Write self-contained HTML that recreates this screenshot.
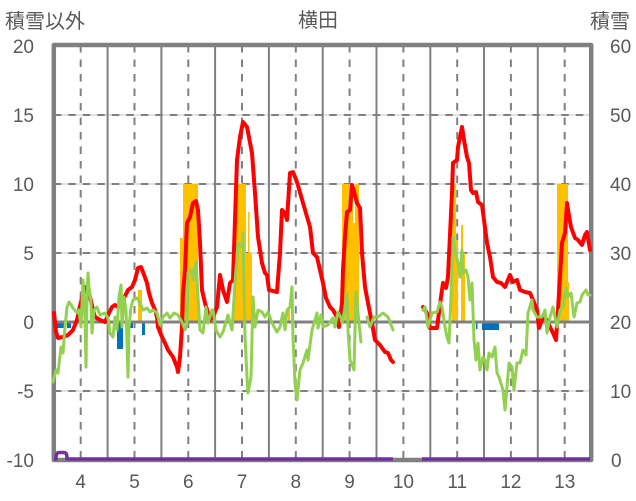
<!DOCTYPE html>
<html><head><meta charset="utf-8"><style>
html,body{margin:0;padding:0;background:#fff;}
svg{display:block;}
text{font-family:"Liberation Sans","Noto Sans CJK JP",sans-serif;fill:#595959;}
</style></head><body>
<svg width="636" height="501" viewBox="0 0 636 501" xmlns="http://www.w3.org/2000/svg">
<!-- horizontal light underlay -->
<g stroke="#d9d9d9" stroke-width="1.5">
<line x1="54" y1="115" x2="591" y2="115"/><line x1="54" y1="184" x2="591" y2="184"/>
<line x1="54" y1="253" x2="591" y2="253"/><line x1="54" y1="391" x2="591" y2="391"/>
</g>
<g stroke="#808080" stroke-width="2" stroke-dasharray="7.5 7">
<line x1="53.8" y1="115" x2="591" y2="115"/><line x1="53.8" y1="184" x2="591" y2="184"/>
<line x1="53.8" y1="253" x2="591" y2="253"/><line x1="53.8" y1="391" x2="591" y2="391"/>
</g>
<!-- vertical solid -->
<g stroke="#808080" stroke-width="2">
<line x1="107.6" y1="45" x2="107.6" y2="460"/><line x1="161.4" y1="45" x2="161.4" y2="460"/>
<line x1="215.1" y1="45" x2="215.1" y2="460"/><line x1="268.9" y1="45" x2="268.9" y2="460"/>
<line x1="322.7" y1="45" x2="322.7" y2="460"/><line x1="376.5" y1="45" x2="376.5" y2="460"/>
<line x1="430.3" y1="45" x2="430.3" y2="460"/><line x1="484.0" y1="45" x2="484.0" y2="460"/>
<line x1="537.8" y1="45" x2="537.8" y2="460"/>
</g>
<!-- vertical dashed -->
<g stroke="#808080" stroke-width="2" stroke-dasharray="7.5 7">
<line x1="80.7" y1="45" x2="80.7" y2="460"/><line x1="134.5" y1="45" x2="134.5" y2="460"/>
<line x1="188.3" y1="45" x2="188.3" y2="460"/><line x1="242.0" y1="45" x2="242.0" y2="460"/>
<line x1="295.8" y1="45" x2="295.8" y2="460"/><line x1="349.6" y1="45" x2="349.6" y2="460"/>
<line x1="403.4" y1="45" x2="403.4" y2="460"/><line x1="457.2" y1="45" x2="457.2" y2="460"/>
<line x1="510.9" y1="45" x2="510.9" y2="460"/><line x1="564.7" y1="45" x2="564.7" y2="460"/>
</g>
<!-- yellow bars -->
<g fill="#FFC000">
<rect x="138" y="290" width="4" height="32"/>
<rect x="180" y="238" width="3" height="84"/>
<rect x="183" y="184" width="15" height="138"/>
<rect x="234" y="198" width="3" height="124"/>
<rect x="237" y="184" width="9" height="138"/>
<rect x="246" y="253" width="6" height="69"/>
<rect x="248" y="212" width="1.5" height="110"/>
<rect x="288" y="307" width="2" height="15"/>
<rect x="342" y="184" width="11" height="138"/>
<rect x="353" y="223" width="2" height="99"/>
<rect x="355" y="184" width="4" height="138"/>
<rect x="452" y="213" width="2" height="109"/>
<rect x="454" y="184" width="2" height="138"/>
<rect x="456" y="240" width="2" height="82"/>
<rect x="461" y="225" width="2" height="97"/>
<rect x="463" y="253" width="2" height="69"/>
<rect x="557" y="184" width="11" height="138"/>
<rect x="567" y="282" width="2" height="40"/>
</g>
<!-- blue bars -->
<g fill="#0070C0">
<rect x="57" y="322" width="8" height="6"/>
<rect x="67" y="322" width="4" height="6"/>
<rect x="117" y="322" width="6" height="27"/>
<rect x="130" y="322" width="3" height="6"/>
<rect x="142" y="322" width="3" height="13"/>
<rect x="476" y="322" width="1.5" height="7"/>
<rect x="482" y="322" width="17" height="8"/>
<rect x="526" y="322" width="1.5" height="7"/>
</g>
<!-- zero line -->
<line x1="53.8" y1="322" x2="591" y2="322" stroke="#808080" stroke-width="3"/>
<!-- border -->
<rect x="53.8" y="45" width="537.4" height="415" fill="none" stroke="#808080" stroke-width="4.5" stroke-linejoin="round"/>
<!-- red -->
<g fill="none" stroke="#FF0000" stroke-width="4" stroke-linejoin="round" stroke-linecap="round">
<polyline points="54,313 56,332 58,338 63,337 68,335 73,330 77,320 79,310 82,298 85,287 88,290 90,297 93,310 95,317 100,320 105,322 109,313 112,307 115,305 118,307 123,300 128,290 132,287 135,280 138,268 141,267 143,272 147,283 149,293 152,303 155,310 157,317 158,327 162,337 165,343 168,350 173,357 177,367 178,372 180,357 182,327 183,293 185,270 187,223 190,217 193,203 196,201 198,210 200,243 202,290 205,303 210,320 213,317 217,307 220,275 223,290 227,302 230,283 233,280 237,160 240,137 243,122 247,127 252,153 255,193 258,237 262,263 265,273 267,275 269,290 277,292 280,253 282,210 285,213 287,220 290,173 293,172 297,182 303,203 310,227 313,253 317,257 323,283 326,298 330,307 333,310 337,317 339,327 342,303 343,270 345,237 347,212 350,210 352,185 353,188 357,203 360,208 362,253 365,287 368,303 372,323 375,340 380,345 385,352 388,353 391,360 393,362"/>
<polyline points="423,307 427,313 430,328 437,328 441,297 443,283 446,288 448,277 452,193 453,163 457,160 458,147 460,137 462,127 464,140 467,157 469,163 471,190 473,193 476,192 478,202 482,205 484,220 487,243 490,257 493,277 497,282 501,283 505,287 510,275 513,282 517,280 520,290 525,292 530,293 533,300 537,310 539,328 543,317 547,320 550,327 553,333 556,340 558,310 560,277 562,243 565,233 567,203 568,210 571,227 575,238 578,240 582,245 585,235 587,232 590,250"/>
</g>
<!-- green -->
<g fill="none" stroke="#92D050" stroke-width="3" stroke-linejoin="round" stroke-linecap="round">
<polyline points="53,382 56,370 58,373 61,347 63,353 65,327 67,307 69,302 73,308 77,313 79,310 81,327 82,303 83,280 85,320 86,367 87,293 88,273 89,287 91,303 92,333 94,310 97,307 100,315 105,313 108,318 110,333 113,337 115,317 117,330 119,297 121,285 122,327 124,297 126,310 128,377 129,327 131,307 133,300 137,298 140,303 143,310 147,308 150,312 153,310 157,313 160,325 163,317 167,313 170,318 174,313 178,315 182,322 185,330 187,323 188,273 192,270 193,280 196,262 198,297 200,330 203,333 206,307 208,323 212,310 213,310 216,330 220,337 223,332 228,315 232,330 235,283 238,243 242,247 243,233 245,337 247,377 248,393 251,377 253,297 255,327 258,310 262,312 265,317 268,312 272,323 277,332 280,327 283,313 285,330 287,310 290,307 292,287 293,337 295,383 297,400 300,370 303,363 307,350 308,360 312,330 317,313 318,328 321,315 323,327 328,325 333,318 335,327 338,312 341,318 342,323 344,313 347,293 348,330 350,360 353,367 354,370 356,292 358,313 361,342"/>
<polyline points="367,317 370,327 374,317 378,317 383,313 388,317 393,330"/>
<polyline points="423,310 425,307 428,327 432,313 437,312 440,302 442,307 445,327 447,337 449,343 451,297 453,237 455,250 458,263 460,277 462,250 463,273 466,270 468,277 470,300 472,283 474,340 476,360 478,343 480,370 483,357 485,360 487,370 489,353 492,357 495,347 497,373 499,377 503,390 505,410 507,387 509,363 512,367 514,390 517,363 520,363 523,350 526,355 528,313 532,300 533,310 537,317 542,317 545,310 547,333 550,317 553,307 557,327 560,310 563,307 566,288 568,297 571,293 574,317 577,303 580,302 582,295 586,290 588,295 590,295"/>
</g>
<!-- purple -->
<path d="M54,459 L56,459 C56,453 57,452.5 60,452.5 L63,452.5 C66,452.5 67,453 67,459 L393,459 M422,459 L590,459" fill="none" stroke="#7030A0" stroke-width="3.5" stroke-linejoin="round"/>
<!-- left axis labels -->
<g font-size="19" text-anchor="end">
<text x="34" y="53">20</text><text x="34" y="122">15</text><text x="34" y="191">10</text>
<text x="34" y="260">5</text><text x="34" y="329">0</text><text x="34" y="398">-5</text><text x="34" y="467">-10</text>
</g>
<!-- right axis labels -->
<g font-size="19" text-anchor="start">
<text x="610" y="53">60</text><text x="610" y="122">50</text><text x="610" y="191">40</text>
<text x="610" y="260">30</text><text x="610" y="329">20</text><text x="610" y="398">10</text><text x="611" y="467">0</text>
</g>
<!-- x labels -->
<g font-size="19" text-anchor="middle">
<text x="80.7" y="488">4</text><text x="134.5" y="488">5</text><text x="188.3" y="488">6</text>
<text x="242" y="488">7</text><text x="295.8" y="488">8</text><text x="349.6" y="488">9</text>
<text x="403.4" y="488">10</text><text x="457.2" y="488">11</text><text x="510.9" y="488">12</text>
<text x="564.7" y="488">13</text>
</g>
<text x="5" y="28" font-size="20">積雪以外</text>
<text x="318" y="27" font-size="20" text-anchor="middle">横田</text>
<text x="590" y="28" font-size="20">積雪</text>
</svg>
</body></html>
